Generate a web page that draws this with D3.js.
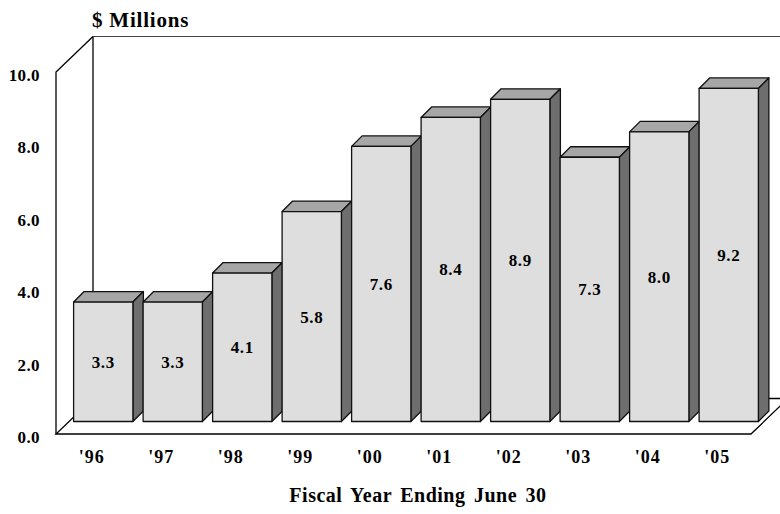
<!DOCTYPE html>
<html>
<head>
<meta charset="utf-8">
<script src="https://cdn.jsdelivr.net/npm/d3@7"></script>
<style>
  html, body { margin: 0; padding: 0; background: #ffffff; }
  svg { display: block; }
  text { font-family: "Liberation Serif", "Times New Roman", serif; font-weight: bold; fill: #000; }
</style>
</head>
<body>
<svg id="chart" width="780" height="514"></svg>
<script>
// Annual amounts, fiscal years ending June 30 ($ millions)
const years = ["'96", "'97", "'98", "'99", "'00", "'01", "'02", "'03", "'04", "'05"];
const amounts = [3.3, 3.3, 4.1, 5.8, 7.6, 8.4, 8.9, 7.3, 8.0, 9.2];
const yTicks = [0, 2, 4, 6, 8, 10];
const yUnitLabel = "$ Millions";
const xTitle = "Fiscal Year Ending June 30";

const svg = d3.select("#chart");

// Front plane of the 3D box and the depth of its walls
const frontLeft = 56, frontRight = 751, frontBottom = 434, frontTop = 72;
const wallDx = 37, wallDy = 35.5;
// Bars stand part-way into the box, with their own depth
const barShift = 12.5;
const barDx = 10.5, barDy = 10.5;

const x = d3.scaleBand()
  .domain(years)
  .range([frontLeft, frontRight])
  .paddingInner(0.147)
  .paddingOuter(0.0735);

const y = d3.scaleLinear()
  .domain([0, 10])
  .range([frontBottom, frontTop]);

// Walls and floor
const walls = svg.append("g")
  .attr("fill", "none")
  .attr("stroke", "#000")
  .attr("stroke-width", 1.3);

const backLeft = frontLeft + wallDx;
const backTop = y(10) - wallDy;
const backBottom = y(0) - wallDy;

// side wall (left)
walls.append("path")
  .attr("d", `M${frontLeft},${y(0)} L${frontLeft},${y(10)} L${backLeft},${backTop}`);
// back wall: left edge and top edge
walls.append("path")
  .attr("d", `M${backLeft},${backBottom} L${backLeft},${backTop}`);
walls.append("path")
  .attr("stroke", "#444")
  .attr("stroke-width", 1.1)
  .attr("d", `M${backLeft},${backTop} L${780 + 20},${backTop}`);
// floor
walls.append("path")
  .attr("d", `M${backLeft},${backBottom} L${frontLeft},${y(0)} L${frontRight},${y(0)} L${frontRight + wallDx},${backBottom} L${backLeft},${backBottom}`);

// Bars
const bars = svg.append("g")
  .attr("stroke", "#111")
  .attr("stroke-width", 1.3)
  .attr("stroke-linejoin", "round");

const barGroups = bars.selectAll("g.bar")
  .data(years.map((yr, i) => ({ yr, v: amounts[i] })))
  .join("g")
  .attr("class", "bar");

const geom = d => {
  const x0 = x(d.yr) + barShift;
  const x1 = x0 + x.bandwidth();
  const yb = y(0) - barShift;
  const yt = y(d.v) - barShift;
  return { x0, x1, yb, yt };
};

// top face
barGroups.append("path")
  .attr("fill", "#a6a6a6")
  .attr("d", d => {
    const g = geom(d);
    return `M${g.x0},${g.yt} L${g.x1},${g.yt} L${g.x1 + barDx},${g.yt - barDy} L${g.x0 + barDx},${g.yt - barDy} Z`;
  });
// side face
barGroups.append("path")
  .attr("fill", "#6e6e6e")
  .attr("d", d => {
    const g = geom(d);
    return `M${g.x1},${g.yt} L${g.x1 + barDx},${g.yt - barDy} L${g.x1 + barDx},${g.yb - barDy} L${g.x1},${g.yb} Z`;
  });
// front face
barGroups.append("rect")
  .attr("fill", "#dedede")
  .attr("x", d => geom(d).x0)
  .attr("y", d => geom(d).yt)
  .attr("width", x.bandwidth())
  .attr("height", d => geom(d).yb - geom(d).yt);

// Value labels centred on each front face
svg.append("g")
  .selectAll("text")
  .data(years.map((yr, i) => ({ yr, v: amounts[i] })))
  .join("text")
  .attr("text-anchor", "middle")
  .style("font-size", "17px")
  .style("letter-spacing", "0.6px")
  .attr("x", d => { const g = geom(d); return (g.x0 + g.x1) / 2; })
  .attr("y", d => { const g = geom(d); return (g.yt + g.yb) / 2 + 6; })
  .text(d => d3.format(".1f")(d.v));

// Value axis
const yAxis = d3.axisLeft(y)
  .tickValues(yTicks)
  .tickSize(0)
  .tickPadding(16)
  .tickFormat(d3.format(".1f"));

svg.append("g")
  .attr("transform", `translate(${frontLeft},0)`)
  .call(yAxis)
  .call(g => g.select(".domain").remove())
  .selectAll("text")
  .style("font-size", "17px")
  .style("letter-spacing", "0.4px")
  .attr("dy", "0.5em");

// Category axis
const xAxis = d3.axisBottom(x)
  .tickSize(0)
  .tickPadding(16);

svg.append("g")
  .attr("transform", `translate(1,${y(0)})`)
  .call(xAxis)
  .call(g => g.select(".domain").remove())
  .selectAll("text")
  .style("font-size", "18px")
  .style("letter-spacing", "1px");

// Titles
svg.append("text")
  .attr("x", 92)
  .attr("y", 27)
  .style("font-size", "21px")
  .style("letter-spacing", "0.8px")
  .text(yUnitLabel);

svg.append("text")
  .attr("x", 418)
  .attr("y", 502)
  .attr("text-anchor", "middle")
  .style("font-size", "20px")
  .style("letter-spacing", "0.5px")
  .style("word-spacing", "3px")
  .text(xTitle);
</script>
</body>
</html>
